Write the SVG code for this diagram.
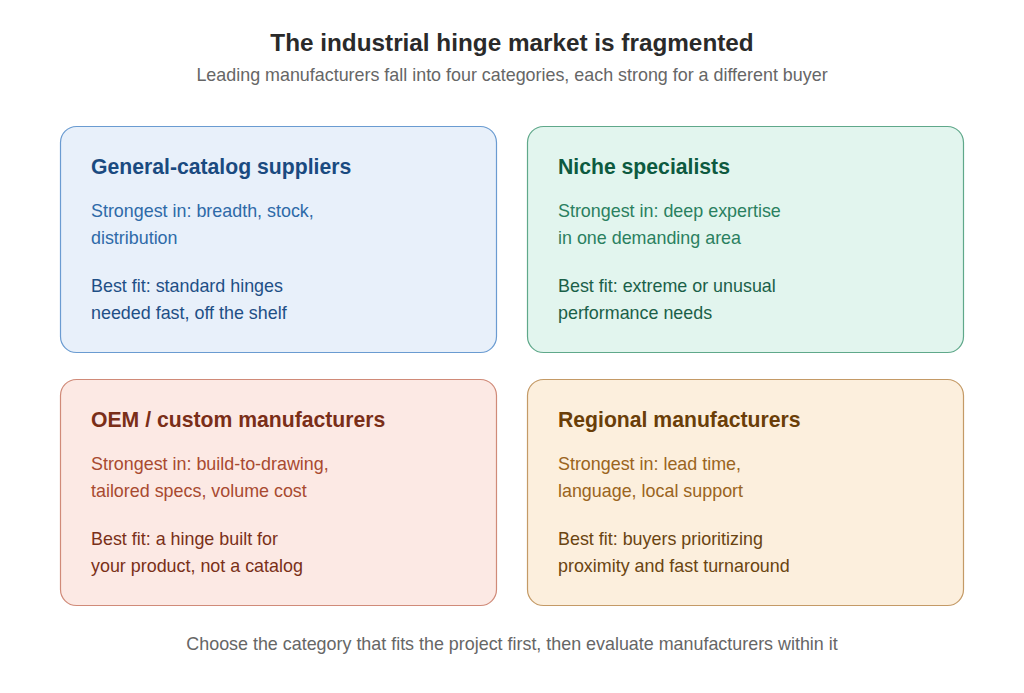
<svg xmlns="http://www.w3.org/2000/svg" width="1024" height="693" viewBox="0 0 1024 693">
<style>
text{font-family:"Liberation Sans",Arial,sans-serif}
.title{font-size:24.3px;font-weight:bold;fill:#2a2a2a;text-anchor:middle}
.sub{font-size:17.9px;fill:#666;text-anchor:middle}
.h{font-size:21.2px;font-weight:bold}
.b{font-size:17.9px}
.box{stroke-width:1.2}
</style>
<rect width="1024" height="693" fill="#ffffff"/>
<text class="title" x="512" y="51">The industrial hinge market is fragmented</text>
<text class="sub" x="512" y="81">Leading manufacturers fall into four categories, each strong for a different buyer</text>
<g id="connectors"></g>
<g id="node-general">
<rect class="box" x="60.5" y="126.5" width="436" height="226" rx="16" fill="#e8f0fa" stroke="#6a9bd1"/>
<text class="h" x="91" y="174" fill="#1a4a80">General-catalog suppliers</text>
<text class="b" x="91" y="217" fill="#2e6aa8"><tspan x="91">Strongest in: breadth, stock,</tspan><tspan x="91" dy="27">distribution</tspan></text>
<text class="b" x="91" y="292" fill="#1e4f86"><tspan x="91">Best fit: standard hinges</tspan><tspan x="91" dy="27">needed fast, off the shelf</tspan></text>
</g>
<g id="node-niche">
<rect class="box" x="527.5" y="126.5" width="436" height="226" rx="16" fill="#e2f5ee" stroke="#5fa88a"/>
<text class="h" x="558" y="174" fill="#0d5a40">Niche specialists</text>
<text class="b" x="558" y="217" fill="#2a8060"><tspan x="558">Strongest in: deep expertise</tspan><tspan x="558" dy="27">in one demanding area</tspan></text>
<text class="b" x="558" y="292" fill="#1a6048"><tspan x="558">Best fit: extreme or unusual</tspan><tspan x="558" dy="27">performance needs</tspan></text>
</g>
<g id="node-oem">
<rect class="box" x="60.5" y="379.5" width="436" height="226" rx="16" fill="#fce9e4" stroke="#d08a78"/>
<text class="h" x="91" y="427" fill="#7a2e18">OEM / custom manufacturers</text>
<text class="b" x="91" y="470" fill="#a84a30"><tspan x="91">Strongest in: build-to-drawing,</tspan><tspan x="91" dy="27">tailored specs, volume cost</tspan></text>
<text class="b" x="91" y="545" fill="#7a3018"><tspan x="91">Best fit: a hinge built for</tspan><tspan x="91" dy="27">your product, not a catalog</tspan></text>
</g>
<g id="node-regional">
<rect class="box" x="527.5" y="379.5" width="436" height="226" rx="16" fill="#fcefdd" stroke="#c49a66"/>
<text class="h" x="558" y="427" fill="#6a3e08">Regional manufacturers</text>
<text class="b" x="558" y="470" fill="#9a6420"><tspan x="558">Strongest in: lead time,</tspan><tspan x="558" dy="27">language, local support</tspan></text>
<text class="b" x="558" y="545" fill="#6a4410"><tspan x="558">Best fit: buyers prioritizing</tspan><tspan x="558" dy="27">proximity and fast turnaround</tspan></text>
</g>
<text class="sub" x="512" y="650">Choose the category that fits the project first, then evaluate manufacturers within it</text>
</svg>
